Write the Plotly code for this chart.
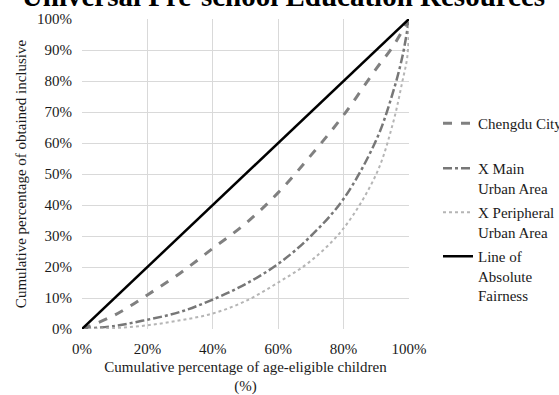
import plotly.graph_objects as go

# Data (percent)
chengdu_x = [0, 10, 20, 30, 40, 50, 60, 70, 80, 90, 95, 100]
chengdu_y = [0, 4.5, 11, 18, 26, 34, 44, 56, 69, 84, 91, 100]

main_x = [0, 10, 20, 30, 40, 50, 60, 70, 80, 90, 95, 98, 100]
main_y = [0, 1, 3, 5.5, 9.5, 14.5, 21, 30, 42, 61, 76, 88, 100]

peri_x = [0, 10, 20, 30, 40, 50, 60, 70, 80, 90, 95, 98, 99.5, 100]
peri_y = [0, 0.3, 1.2, 2.8, 5, 9, 15, 22, 32.5, 50, 66, 80, 88, 100]

fair_x = [0, 100]
fair_y = [0, 100]

tick_vals_x = [0, 20, 40, 60, 80, 100]
tick_text_x = ["0%", "20%", "40%", "60%", "80%", "100%"]
tick_vals_y = [0, 10, 20, 30, 40, 50, 60, 70, 80, 90, 100]
tick_text_y = ["0%", "10%", "20%", "30%", "40%", "50%", "60%", "70%", "80%", "90%", "100%"]

FONT = "Liberation Serif"
TXT = "#1a1a1a"
W, H = 559, 395

fig = go.Figure()
fig.add_trace(go.Scatter(x=chengdu_x, y=chengdu_y, mode="lines", name="Chengdu City",
                         line=dict(color="#808080", width=3, dash="dash", shape="spline"),
                         legend="legend"))
fig.add_trace(go.Scatter(x=main_x, y=main_y, mode="lines", name="X Main<br>Urban Area",
                         line=dict(color="#777777", width=2.5, dash="dashdot", shape="spline"),
                         legend="legend2"))
fig.add_trace(go.Scatter(x=peri_x, y=peri_y, mode="lines", name="X Peripheral<br>Urban Area",
                         line=dict(color="#b5b5b5", width=2, dash="dot", shape="spline"),
                         legend="legend3"))
fig.add_trace(go.Scatter(x=fair_x, y=fair_y, mode="lines", name="Line of<br>Absolute<br>Fairness",
                         line=dict(color="#000000", width=2.5),
                         legend="legend4"))

def leg(top_px):
    return dict(x=438/W, xanchor="left", xref="container",
                y=1 - top_px/H, yanchor="top", yref="container",
                font=dict(family=FONT, size=15, color=TXT),
                valign="top", bgcolor="rgba(0,0,0,0)")

fig.update_layout(
    width=W, height=H,
    margin=dict(l=82, r=150, t=19, b=66),
    paper_bgcolor="white", plot_bgcolor="white",
    font=dict(family=FONT, size=15, color=TXT),
    title=dict(text="<b>Universal Pre-school Education Resources</b>",
               x=283.5/W, xanchor="center", xref="container",
               y=1 - 6/H, yanchor="bottom", yref="container",
               pad=dict(t=0, b=0, l=0, r=0),
               font=dict(family=FONT, size=29, color="#000000")),
    showlegend=True,
    legend=leg(107),
    legend2=leg(152),
    legend3=leg(196),
    legend4=leg(240),
    xaxis=dict(range=[0, 100], tickmode="array", tickvals=tick_vals_x, ticktext=tick_text_x,
               showgrid=True, gridcolor="#d9d9d9", gridwidth=1,
               zeroline=False, showline=False, ticks="", automargin=False,
               ticklabelstandoff=9,
               tickfont=dict(family=FONT, size=15, color=TXT),
               title=dict(text="Cumulative percentage of age-eligible children<br>(%)",
                          font=dict(family=FONT, size=15, color=TXT), standoff=16)),
    yaxis=dict(range=[0, 100], tickmode="array", tickvals=tick_vals_y, ticktext=tick_text_y,
               showgrid=True, gridcolor="#d9d9d9", gridwidth=1,
               zeroline=False, showline=False, ticks="", automargin=False,
               ticklabelstandoff=9,
               tickfont=dict(family=FONT, size=15, color=TXT),
               title=dict(text="Cumulative percentage of obtained inclusive",
                          font=dict(family=FONT, size=15, color=TXT), standoff=6)),
)

fig.write_html("out.html", config={"displayModeBar": False},
               post_script="document.body.style.margin='0';document.body.style.padding='0';")
